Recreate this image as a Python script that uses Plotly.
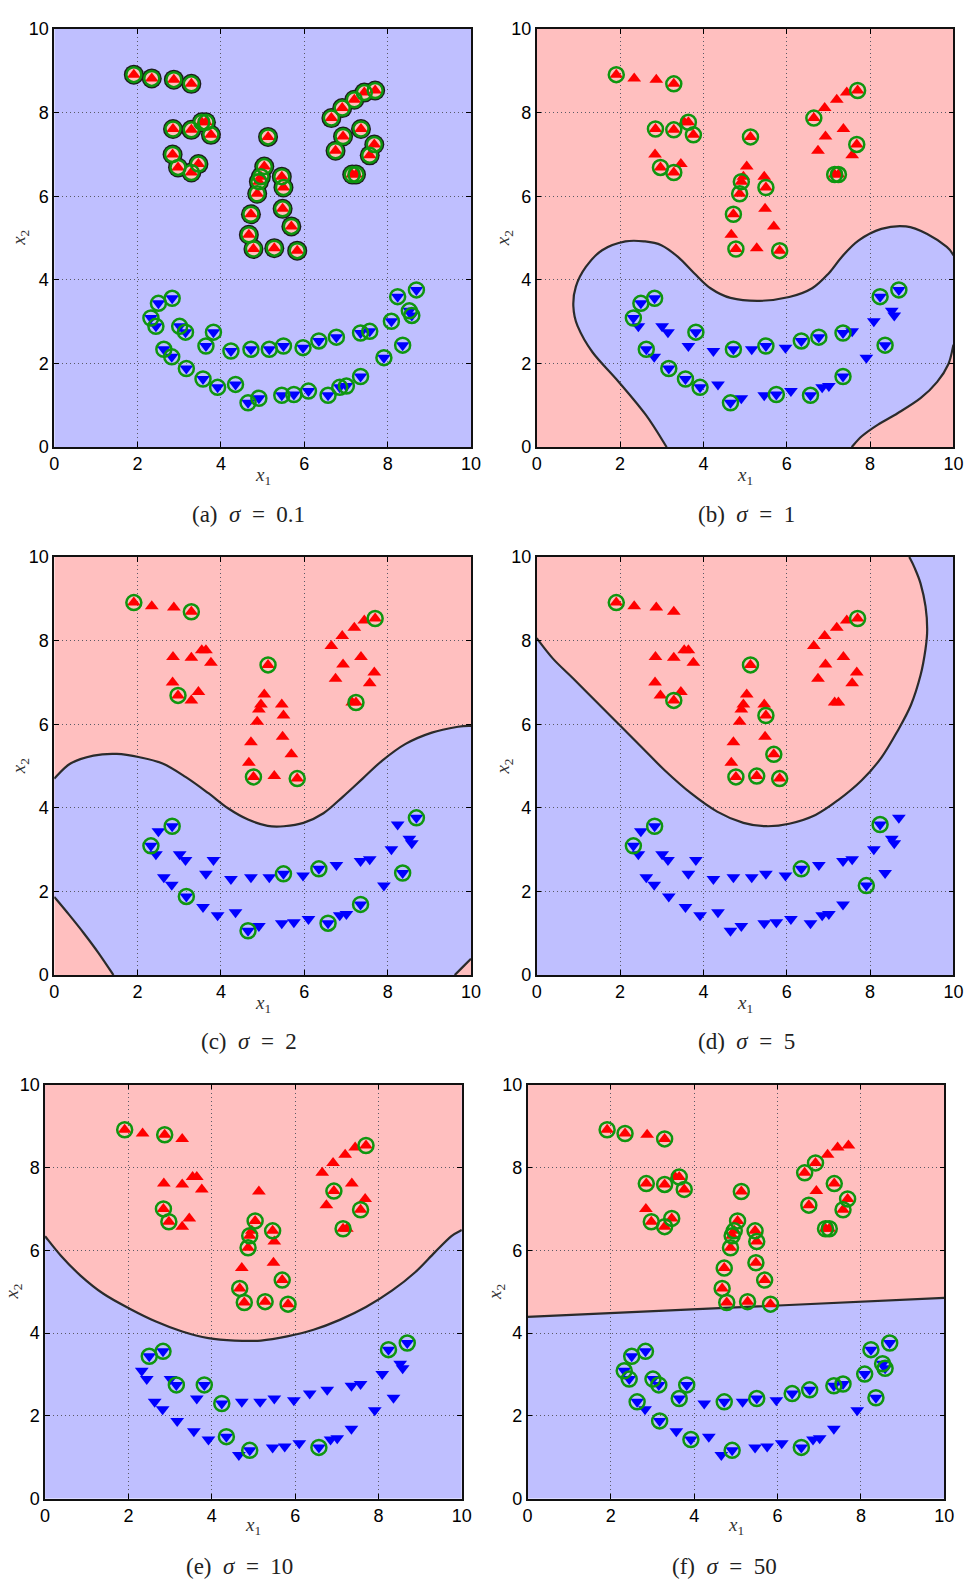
import plotly.graph_objects as go

# ---- training points -------------------------------------------------------
red_x = [1.91, 2.34, 2.87, 3.29, 2.85, 3.29, 3.54, 3.64, 3.76, 2.84, 2.97, 3.29, 3.46,
         5.13, 5.04, 4.96, 4.91, 4.87, 4.72, 4.67, 4.78, 5.28, 5.83, 5.46, 5.50, 5.48, 5.69,
         6.65, 6.91, 7.20, 7.44, 7.70, 7.36, 6.93, 6.75, 7.68, 7.57, 7.15, 7.24]
red_y = [8.91, 8.82, 8.79, 8.69, 7.61, 7.59, 7.77, 7.77, 7.47, 7.00, 6.69, 6.57, 6.77,
         7.42, 6.71, 6.47, 6.35, 6.06, 5.57, 5.08, 4.74, 4.76, 4.70, 6.47, 6.21, 5.70, 5.28,
         7.87, 8.11, 8.31, 8.48, 8.53, 7.61, 7.43, 7.09, 7.24, 6.98, 6.52, 6.52]

blue_x = [2.32, 2.44, 2.50, 2.83, 3.01, 3.15, 2.63, 2.82, 3.17, 3.57, 3.92, 4.35, 3.64,
          3.82, 4.24, 4.72, 4.65, 4.91, 5.16, 5.50, 5.46, 5.75, 6.10, 5.97, 6.35, 6.77,
          6.57, 6.85, 7.01, 7.35, 7.35, 7.57, 7.91, 8.09, 8.24, 8.52, 8.58, 8.36, 8.69]
blue_y = [3.09, 2.89, 3.44, 3.56, 2.89, 2.75, 2.34, 2.16, 1.88, 1.63, 1.43, 1.50, 2.42,
          2.75, 2.30, 2.34, 1.06, 1.17, 2.34, 2.42, 1.24, 1.26, 1.34, 2.38, 2.54, 2.63,
          1.24, 1.43, 1.46, 1.69, 2.73, 2.77, 2.14, 3.01, 3.60, 3.26, 3.15, 2.44, 3.76]

# ---- support vectors per kernel width ---------------------------------------
sv_red_a = list(range(len(red_x)))
sv_blue_a = list(range(len(blue_x)))
sv_red_b = [0, 3, 4, 5, 7, 8, 10, 11, 13, 16, 17, 18, 20, 22, 24, 27, 31, 35, 37, 38]
sv_blue_b = [0, 2, 3, 6, 8, 9, 10, 13, 15, 16, 19, 21, 24, 25, 26, 29, 30, 34, 37, 38]
sv_red_c = [0, 3, 10, 13, 20, 22, 31, 38]
sv_blue_c = [0, 3, 8, 16, 19, 24, 26, 29, 37, 38]
sv_red_d = [0, 11, 13, 20, 21, 22, 24, 26, 31]
sv_blue_d = [0, 3, 24, 32, 34]
sv_red_e = [0, 2, 9, 10, 14, 16, 17, 19, 20, 21, 22, 23, 26, 31, 33, 36, 37]
sv_blue_e = [2, 3, 5, 11, 13, 14, 17, 26, 34, 38]
sv_red_f = [0, 1, 3, 4, 5, 7, 8, 10, 11, 12, 13, 14, 15, 16, 17, 18, 19, 20, 21, 22, 23,
            24, 25, 26, 27, 28, 32, 34, 35, 36, 37, 38]
sv_blue_f = [0, 1, 2, 3, 4, 5, 6, 8, 10, 12, 13, 15, 17, 19, 24, 25, 26, 30, 31, 33, 34,
             35, 36, 37, 38]

# ---- decision boundaries (zero level of the decision function) -------------
bnd_b1_x = [3.12, 2.62, 1.97, 1.34, 0.98, 0.88, 0.94, 1.18, 1.57, 2.13, 2.60, 2.99, 3.39,
            3.78, 4.17, 4.65, 5.35, 6.06, 6.61, 7.01, 7.32, 7.72, 8.27, 8.86, 9.37, 9.84, 10.0]
bnd_b1_y = [0.00, 0.77, 1.56, 2.27, 2.90, 3.37, 3.84, 4.31, 4.71, 4.92, 4.92, 4.83, 4.55,
            4.16, 3.80, 3.57, 3.50, 3.59, 3.80, 4.16, 4.55, 4.94, 5.22, 5.28, 5.10, 4.79, 4.59]
bnd_b2_x = [10.0, 9.88, 9.61, 9.21, 8.66, 8.19, 7.80, 7.56]
bnd_b2_y = [2.45, 1.99, 1.56, 1.17, 0.81, 0.54, 0.26, 0.00]

bnd_c1_x = [0.00, 0.39, 0.94, 1.50, 2.05, 2.60, 3.15, 3.70, 4.17, 4.65, 5.12, 5.51, 5.98,
            6.46, 6.93, 7.40, 7.87, 8.43, 9.06, 9.69, 10.0]
bnd_c1_y = [4.70, 5.06, 5.25, 5.29, 5.21, 5.06, 4.74, 4.35, 3.99, 3.72, 3.57, 3.56, 3.64,
            3.87, 4.27, 4.70, 5.13, 5.53, 5.80, 5.94, 5.96]
bnd_c2_x = [10.0, 9.61]
bnd_c2_y = [0.39, 0.00]
bnd_c3_x = [1.42, 1.06, 0.71, 0.35, 0.00]
bnd_c3_y = [0.00, 0.53, 1.00, 1.45, 1.87]

bnd_d_x = [0.00, 0.39, 0.87, 1.42, 1.97, 2.52, 3.07, 3.70, 4.33, 4.96, 5.51, 6.06, 6.69,
           7.24, 7.80, 8.27, 8.66, 8.98, 9.21, 9.33, 9.37, 9.33, 9.21, 9.06, 8.94]
bnd_d_y = [8.06, 7.57, 7.10, 6.55, 6.00, 5.45, 4.90, 4.35, 3.91, 3.64, 3.56, 3.62, 3.83,
           4.19, 4.66, 5.20, 5.84, 6.46, 7.17, 7.80, 8.27, 8.82, 9.37, 9.76, 10.0]

bnd_e_x = [0.00, 0.38, 0.85, 1.40, 2.03, 2.66, 3.29, 3.92, 4.55, 5.18, 5.81, 6.44, 7.07,
           7.70, 8.33, 8.88, 9.35, 9.75, 10.0]
bnd_e_y = [6.34, 5.87, 5.39, 4.95, 4.59, 4.28, 4.04, 3.88, 3.82, 3.82, 3.92, 4.08, 4.32,
           4.63, 5.03, 5.47, 5.95, 6.34, 6.49]

bnd_f_x = [0.0, 10.0]
bnd_f_y = [4.39, 4.85]

sigma_labels = ["0.1", "1", "2", "5", "10", "50"]
panel_tags = ["a", "b", "c", "d", "e", "f"]

# ---- styling -----------------------------------------------------------------
RED_BG = "#ffbfbf"
BLUE_BG = "#bfbfff"
RED = "#ff0000"
BLUE = "#0000ff"
GREEN = "#0f960f"
EDGE = "#2b2b2b"
LO, HI = 0.0, 10.0
W, H = 973, 1593

# plot-area pixel boxes (left, right, top, bottom)
boxes = [(50.0, 473.3, 19.3, 442.7), (540.0, 963.3, 19.3, 442.7),
         (50.0, 473.3, 554.0, 977.3), (540.0, 963.3, 554.0, 977.3),
         (40.7, 464.0, 1088.3, 1507.7), (530.7, 954.0, 1088.3, 1507.7)]
caption_pos = [(247, 511), (753, 511), (248, 1045), (753, 1045), (238, 1576), (731, 1576)]
xlabel_pos = [(262, 472), (752, 472), (262, 1007), (752, 1007), (252, 1535), (742, 1535)]
ylabel_pos = [(15, 231), (507, 231), (16, 766), (507, 766), (8, 1298), (498, 1298)]


def spline_segments(xs, ys):
    """Catmull-Rom segments through the points, as SVG cubic commands."""
    pts = list(zip(xs, ys))
    n = len(pts)
    out = ""
    for i in range(n - 1):
        p0 = pts[i - 1] if i > 0 else pts[i]
        p1, p2 = pts[i], pts[i + 1]
        p3 = pts[i + 2] if i + 2 < n else pts[i + 1]
        c1 = (p1[0] + (p2[0] - p0[0]) / 6, p1[1] + (p2[1] - p0[1]) / 6)
        c2 = (p2[0] - (p3[0] - p1[0]) / 6, p2[1] - (p3[1] - p1[1]) / 6)
        out += f" C {c1[0]:.4f},{c1[1]:.4f} {c2[0]:.4f},{c2[1]:.4f} {p2[0]:.4f},{p2[1]:.4f}"
    return out


def start(xs, ys, cmd="M"):
    return f" {cmd} {xs[0]:.4f},{ys[0]:.4f}"


curves_b = [(bnd_b1_x, bnd_b1_y), (bnd_b2_x, bnd_b2_y)]
curves_c = [(bnd_c1_x, bnd_c1_y), (bnd_c2_x, bnd_c2_y), (bnd_c3_x, bnd_c3_y)]
curves_d = [(bnd_d_x, bnd_d_y)]
curves_e = [(bnd_e_x, bnd_e_y)]
curves_f = [(bnd_f_x, bnd_f_y)]

# region of the minority class in each panel (the rest takes the background)
region_b = (start(bnd_b1_x, bnd_b1_y) + spline_segments(bnd_b1_x, bnd_b1_y)
            + start(bnd_b2_x, bnd_b2_y, "L") + spline_segments(bnd_b2_x, bnd_b2_y) + " Z")
region_c = (start(bnd_c1_x, bnd_c1_y) + spline_segments(bnd_c1_x, bnd_c1_y)
            + start(bnd_c2_x, bnd_c2_y, "L") + spline_segments(bnd_c2_x, bnd_c2_y)
            + start(bnd_c3_x, bnd_c3_y, "L") + spline_segments(bnd_c3_x, bnd_c3_y) + " Z")
region_d = (start(bnd_d_x, bnd_d_y) + spline_segments(bnd_d_x, bnd_d_y)
            + f" L {LO},{HI} Z")
region_e = (start(bnd_e_x, bnd_e_y) + spline_segments(bnd_e_x, bnd_e_y)
            + f" L {HI},{HI} L {LO},{HI} Z")
region_f = (start(bnd_f_x, bnd_f_y) + spline_segments(bnd_f_x, bnd_f_y)
            + f" L {HI},{HI} L {LO},{HI} Z")

panels = [
    dict(bg=BLUE_BG, region=None, fill=None, curves=[], svr=sv_red_a, svb=sv_blue_a),
    dict(bg=RED_BG, region=region_b, fill=BLUE_BG, curves=curves_b, svr=sv_red_b, svb=sv_blue_b),
    dict(bg=RED_BG, region=region_c, fill=BLUE_BG, curves=curves_c, svr=sv_red_c, svb=sv_blue_c),
    dict(bg=BLUE_BG, region=region_d, fill=RED_BG, curves=curves_d, svr=sv_red_d, svb=sv_blue_d),
    dict(bg=BLUE_BG, region=region_e, fill=RED_BG, curves=curves_e, svr=sv_red_e, svb=sv_blue_e),
    dict(bg=BLUE_BG, region=region_f, fill=RED_BG, curves=curves_f, svr=sv_red_f, svb=sv_blue_f),
]

fig = go.Figure()
shapes = []
annotations = []
layout_axes = {}

tick_font = dict(family="Liberation Sans", size=18, color="#000000")
serif = "Liberation Serif"
EM = "&#8194;"   # en space

for k, p in enumerate(panels):
    n = k + 1
    xr = f"x{n}" if n > 1 else "x"
    yr = f"y{n}" if n > 1 else "y"
    left, right, top, bottom = boxes[k]

    axis_common = dict(
        range=[LO, HI], tickvals=[0, 2, 4, 6, 8, 10], ticks="inside", ticklen=5,
        tickwidth=1, tickcolor="black", showline=True, linecolor="#111111", linewidth=1.5,
        mirror="ticks", showgrid=True, gridcolor="#5a5a66", griddash="1px,3px",
        gridwidth=1, zeroline=False, tickfont=tick_font, fixedrange=True,
    )
    layout_axes[f"xaxis{n if n > 1 else ''}"] = dict(
        axis_common, domain=[left / W, right / W], anchor=yr)
    layout_axes[f"yaxis{n if n > 1 else ''}"] = dict(
        axis_common, domain=[1 - bottom / H, 1 - top / H], anchor=xr)

    # class regions
    shapes.append(dict(type="rect", xref=xr, yref=yr, x0=LO, x1=HI, y0=LO, y1=HI,
                       fillcolor=p["bg"], line=dict(width=0), layer="below"))
    if p["region"]:
        shapes.append(dict(type="path", xref=xr, yref=yr, path=p["region"],
                           fillcolor=p["fill"], line=dict(width=0), layer="below"))
    for cx, cy in p["curves"]:
        shapes.append(dict(type="path", xref=xr, yref=yr,
                           path=start(cx, cy) + spline_segments(cx, cy),
                           fillcolor="rgba(0,0,0,0)", line=dict(color=EDGE, width=2.2),
                           layer="between"))

    if k == 0:
        # very narrow kernel: a small positive island around every red point
        fig.add_trace(go.Scatter(x=red_x, y=red_y, xaxis=xr, yaxis=yr, mode="markers",
                                 marker=dict(symbol="circle", size=20, color="#1c1c1c",
                                             line=dict(width=0)),
                                 hoverinfo="skip", showlegend=False))
        fig.add_trace(go.Scatter(x=red_x, y=red_y, xaxis=xr, yaxis=yr, mode="markers",
                                 marker=dict(symbol="circle", size=15, color=RED_BG,
                                             line=dict(width=0)),
                                 hoverinfo="skip", showlegend=False))

    fig.add_trace(go.Scatter(x=red_x, y=red_y, xaxis=xr, yaxis=yr, mode="markers",
                             marker=dict(symbol="triangle-up", size=12, color=RED,
                                         line=dict(width=0)),
                             hoverinfo="skip", showlegend=False))
    fig.add_trace(go.Scatter(x=blue_x, y=blue_y, xaxis=xr, yaxis=yr, mode="markers",
                             marker=dict(symbol="triangle-down", size=12, color=BLUE,
                                         line=dict(width=0)),
                             hoverinfo="skip", showlegend=False))
    sv_x = [red_x[i] for i in p["svr"]] + [blue_x[i] for i in p["svb"]]
    sv_y = [red_y[i] for i in p["svr"]] + [blue_y[i] for i in p["svb"]]
    fig.add_trace(go.Scatter(x=sv_x, y=sv_y, xaxis=xr, yaxis=yr, mode="markers",
                             marker=dict(symbol="circle-open", size=15, color=GREEN,
                                         line=dict(width=2.5, color=GREEN)),
                             hoverinfo="skip", showlegend=False))

    # captions and axis labels
    cx, cy = caption_pos[k]
    annotations.append(dict(
        x=cx / W, y=1 - cy / H, xref="paper", yref="paper", showarrow=False,
        text=f"({panel_tags[k]}){EM}<i>σ</i>{EM}={EM}{sigma_labels[k]}",
        font=dict(family=serif, size=23, color="#222222"),
        xanchor="center", yanchor="middle"))
    lx, ly = xlabel_pos[k]
    annotations.append(dict(
        x=lx / W, y=1 - ly / H, xref="paper", yref="paper", showarrow=False,
        text="<i>x</i><sub>1</sub>", font=dict(family=serif, size=19, color="#333333"),
        xanchor="center", yanchor="middle"))
    vx, vy = ylabel_pos[k]
    annotations.append(dict(
        x=vx / W, y=1 - vy / H, xref="paper", yref="paper", showarrow=False,
        text="<i>x</i><sub>2</sub>", textangle=-90,
        font=dict(family=serif, size=19, color="#333333"),
        xanchor="center", yanchor="middle"))

fig.update_layout(
    width=W, height=H, autosize=False,
    margin=dict(l=0, r=0, t=0, b=0),
    paper_bgcolor="white", plot_bgcolor="white",
    shapes=shapes, annotations=annotations,
    **layout_axes,
)

fig.write_html("out.html")
